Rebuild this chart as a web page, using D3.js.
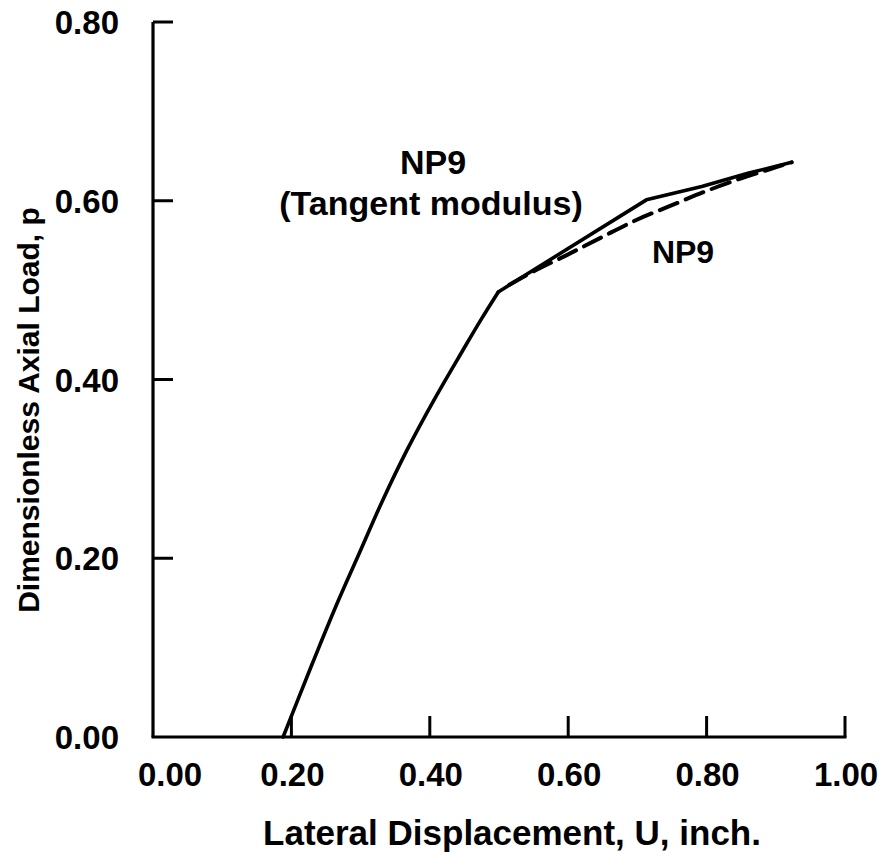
<!DOCTYPE html>
<html>
<head>
<meta charset="utf-8">
<script src="https://cdn.jsdelivr.net/npm/d3@7"></script>
<style>
  html, body { margin: 0; padding: 0; background: #fff; }
  svg text { font-family: "Liberation Sans", Arial, Helvetica, sans-serif; font-weight: bold; fill: #000; }
</style>
</head>
<body>
<svg id="chart" width="882" height="860"></svg>
<script>
// Tangent modulus solution (solid): elastic branch up to the knee at p = 0.50
const tangentLowU = [0.188, 0.209, 0.238, 0.268, 0.300, 0.332, 0.367, 0.406, 0.448, 0.474, 0.499];
const tangentLowP = [0.000, 0.041, 0.097, 0.153, 0.209, 0.265, 0.321, 0.377, 0.433, 0.467, 0.498];
// ...and the branch beyond the knee
const tangentHighU = [0.499, 0.713, 0.793, 0.861, 0.923];
const tangentHighP = [0.498, 0.601, 0.616, 0.631, 0.643];

// NP9 solution (dashed), branching off below the solid curve
const np9U = [0.515, 0.550, 0.600, 0.648, 0.700, 0.750, 0.800, 0.850, 0.890, 0.923];
const np9P = [0.506, 0.521, 0.540, 0.559, 0.579, 0.595, 0.611, 0.625, 0.635, 0.643];

const xTicks = [0.00, 0.20, 0.40, 0.60, 0.80, 1.00];
const yTicks = [0.00, 0.20, 0.40, 0.60, 0.80];

const svg = d3.select("#chart");
const x = d3.scaleLinear().domain([0, 1]).range([153, 845]);
const y = d3.scaleLinear().domain([0, 0.8]).range([737, 22]);

// Axes
svg.append("line").attr("x1", x(0)).attr("x2", x(0)).attr("y1", y(0)).attr("y2", y(0.8))
  .attr("stroke", "#000").attr("stroke-width", 3.2);
svg.append("line").attr("x1", x(0) - 1.5).attr("x2", x(1) + 1.5).attr("y1", y(0)).attr("y2", y(0))
  .attr("stroke", "#000").attr("stroke-width", 3.2);

// Inward tick marks
svg.selectAll(".ytick").data(yTicks.filter(d => d > 0)).enter().append("line")
  .attr("x1", x(0)).attr("x2", x(0) + 20)
  .attr("y1", d => y(d)).attr("y2", d => y(d))
  .attr("stroke", "#000").attr("stroke-width", 3);
svg.selectAll(".xtick").data(xTicks.filter(d => d > 0)).enter().append("line")
  .attr("x1", d => x(d)).attr("x2", d => x(d))
  .attr("y1", y(0)).attr("y2", y(0) - 21)
  .attr("stroke", "#000").attr("stroke-width", 3);

// Tick labels (the origin label is nudged right, clear of the y labels)
svg.selectAll(".xlab").data(xTicks).enter().append("text")
  .attr("x", d => d === 0 ? x(d) + 17 : x(d) + 1).attr("y", 786)
  .attr("text-anchor", "middle").attr("font-size", 33)
  .text(d => d.toFixed(2));
svg.selectAll(".ylab").data(yTicks).enter().append("text")
  .attr("x", 119).attr("y", d => y(d) + 12)
  .attr("text-anchor", "end").attr("font-size", 33)
  .text(d => d.toFixed(2));

// Axis titles
svg.append("text").attr("x", 512).attr("y", 845)
  .attr("text-anchor", "middle").attr("font-size", 35)
  .text("Lateral Displacement, U, inch.");
svg.append("text")
  .attr("transform", "translate(39,410) rotate(-90)")
  .attr("text-anchor", "middle").attr("font-size", 30)
  .text("Dimensionless Axial Load, p");

// Curves
const smooth = d3.line().x(d => x(d[0])).y(d => y(d[1])).curve(d3.curveCatmullRom.alpha(0.5));
const straight = d3.line().x(d => x(d[0])).y(d => y(d[1])).curve(d3.curveLinear);
svg.append("path")
  .attr("d", smooth(tangentLowU.map((u, i) => [u, tangentLowP[i]])))
  .attr("fill", "none").attr("stroke", "#000").attr("stroke-width", 3.6)
  .attr("stroke-linejoin", "round").attr("stroke-linecap", "round");
svg.append("path")
  .attr("d", straight(tangentHighU.map((u, i) => [u, tangentHighP[i]])))
  .attr("fill", "none").attr("stroke", "#000").attr("stroke-width", 3.6)
  .attr("stroke-linejoin", "round").attr("stroke-linecap", "round");
svg.append("path")
  .attr("d", smooth(np9U.map((u, i) => [u, np9P[i]])))
  .attr("fill", "none").attr("stroke", "#000").attr("stroke-width", 4)
  .attr("stroke-dasharray", "19 9").attr("stroke-linecap", "round");

// Annotations
svg.append("text").attr("x", 433).attr("y", 174)
  .attr("text-anchor", "middle").attr("font-size", 34).text("NP9");
svg.append("text").attr("x", 431).attr("y", 215)
  .attr("text-anchor", "middle").attr("font-size", 34).text("(Tangent modulus)");
svg.append("text").attr("x", 683).attr("y", 263)
  .attr("text-anchor", "middle").attr("font-size", 32).text("NP9");
</script>
</body>
</html>
